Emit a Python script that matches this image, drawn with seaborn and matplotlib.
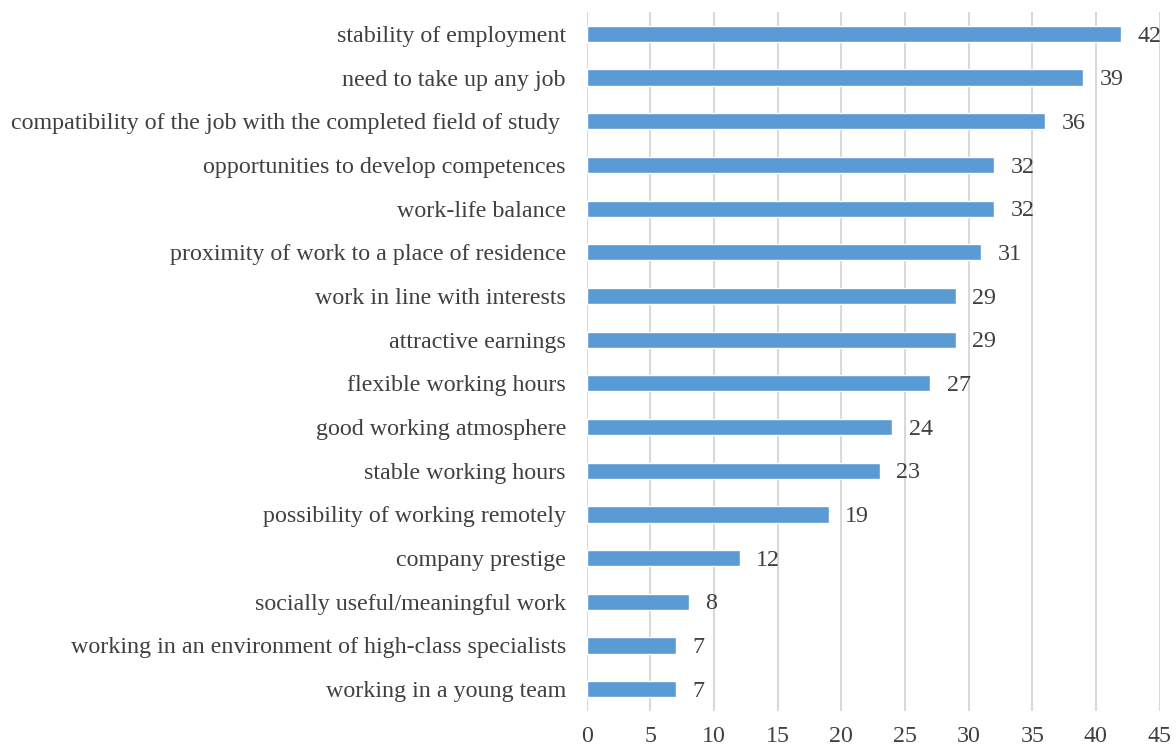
import matplotlib
matplotlib.use("Agg")
import matplotlib.pyplot as plt
import seaborn as sns
import pandas as pd

categories = [
    "stability of employment",
    "need to take up any job",
    "compatibility of the job with the completed field of study ",
    "opportunities to develop competences",
    "work-life balance",
    "proximity of work to a place of residence",
    "work in line with interests",
    "attractive earnings",
    "flexible working hours",
    "good working atmosphere",
    "stable working hours",
    "possibility of working remotely",
    "company prestige",
    "socially useful/meaningful work",
    "working in an environment of high-class specialists",
    "working in a young team",
]
values = [42, 39, 36, 32, 32, 31, 29, 29, 27, 24, 23, 19, 12, 8, 7, 7]

df = pd.DataFrame({"category": categories, "value": values})

sns.set_theme(style="white")
plt.rcParams["font.family"] = ["Liberation Serif", "DejaVu Serif"]
text_color = "#404040"
fs = 17.3

fig = plt.figure(figsize=(11.76, 7.49), dpi=100)
ax = fig.add_axes([0.499, 0.0507, 0.487, 0.9333])

sns.barplot(data=df, y="category", x="value", orient="h", color="#5B9BD5",
            width=0.37, saturation=1, ax=ax, zorder=3)

ax.set_xlim(0, 45)
ax.set_xticks(range(0, 46, 5))
ax.set_ylim(len(categories) - 0.5, -0.5)
ax.grid(axis="x", color="#d9d9d9", linewidth=1.5, zorder=0)
ax.grid(axis="y", visible=False)
for s in ax.spines.values():
    s.set_visible(False)
ax.set_xlabel("")
ax.set_ylabel("")
ax.tick_params(axis="x", length=0, pad=11, labelsize=fs, labelcolor=text_color)
ax.tick_params(axis="y", length=0, pad=15, labelsize=fs, labelcolor=text_color)

for i, v in enumerate(values):
    ax.text(v + 1.3, i + 0.05, str(v), va="center", ha="left", fontsize=fs,
            color=text_color)

fig.savefig("out.png", dpi=100)
